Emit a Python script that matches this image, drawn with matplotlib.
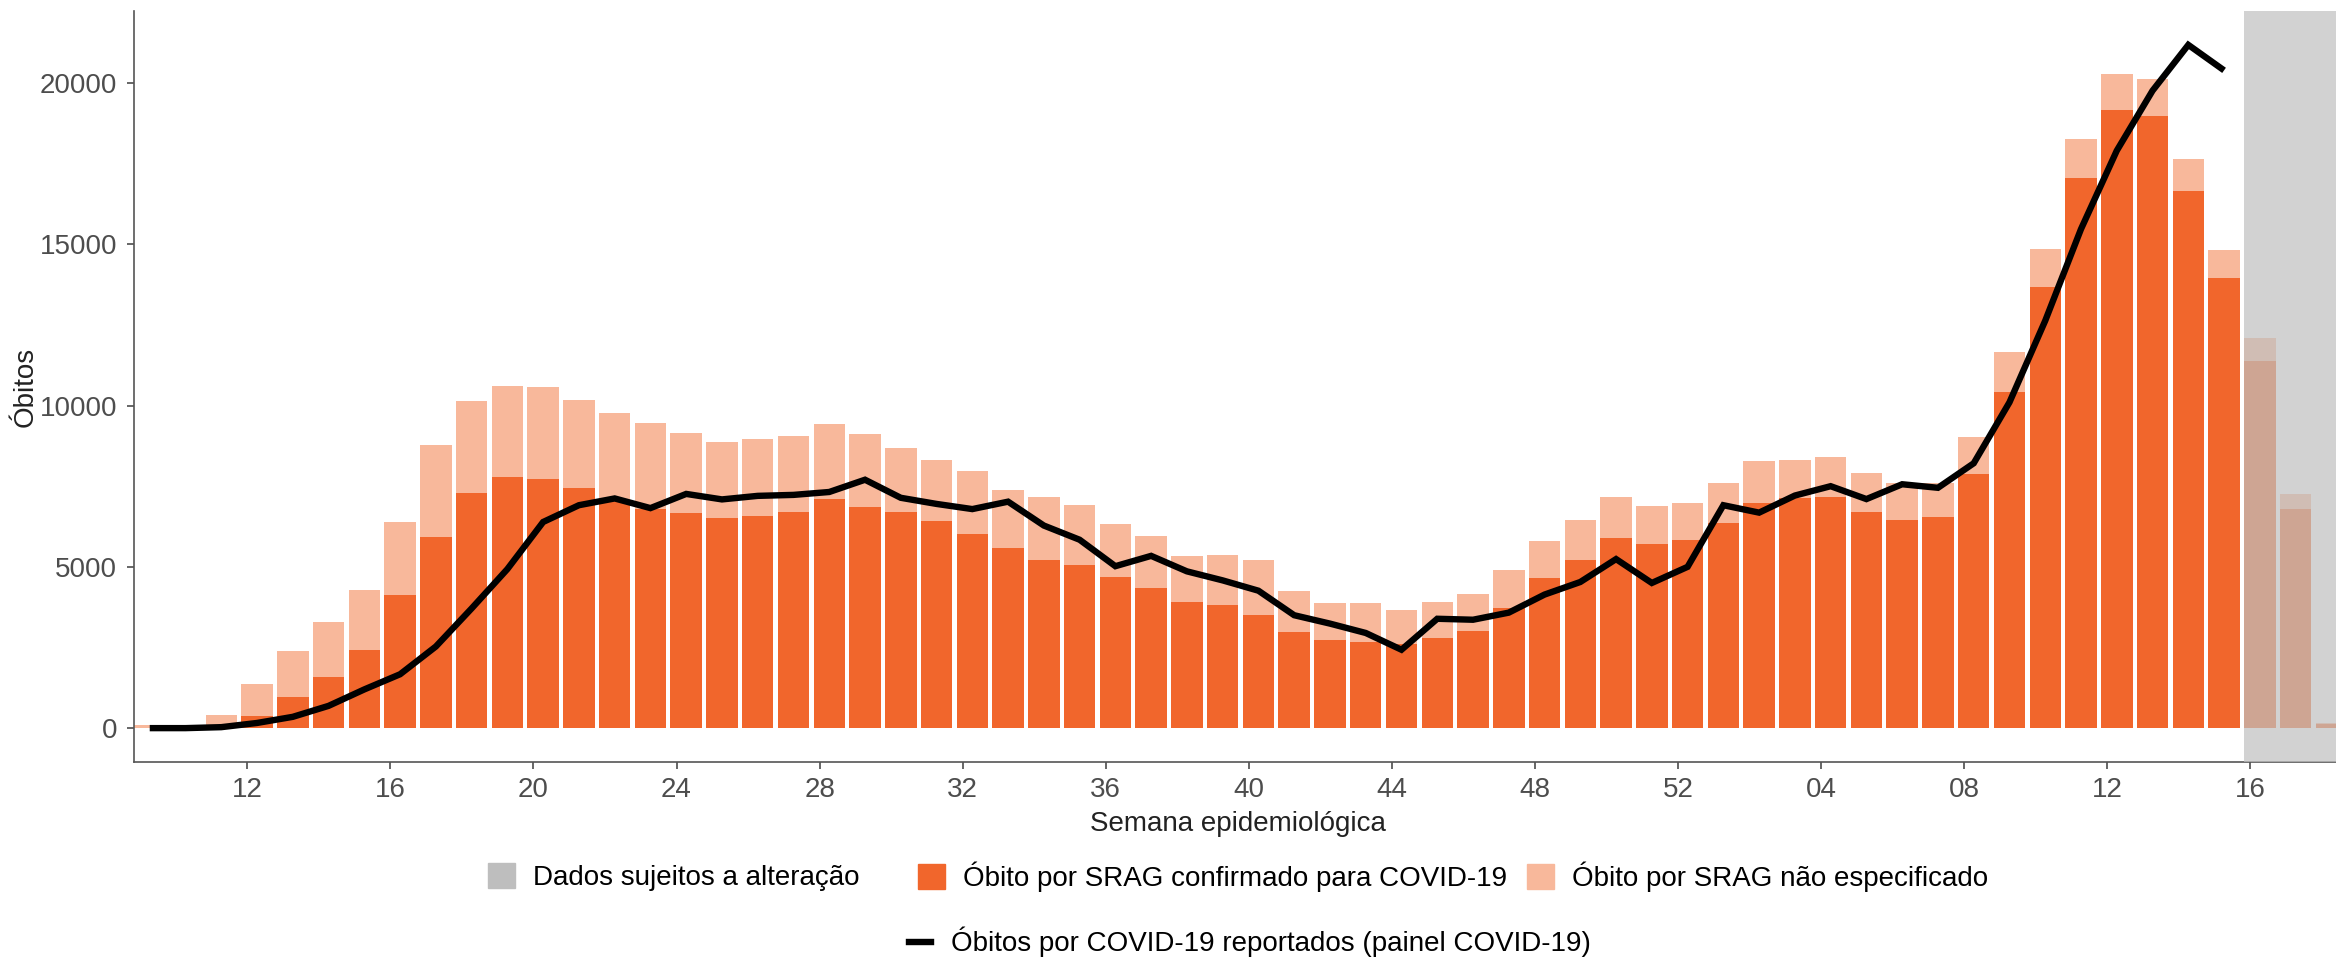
import numpy as np
import matplotlib.pyplot as plt
from matplotlib.patches import Patch
from matplotlib.lines import Line2D

plt.rcParams['font.family'] = ['Liberation Sans', 'DejaVu Sans']

# semanas epidemiologicas: 2020 (09-52) e 2021 (01-18)
semanas = list(range(9, 53)) + list(range(1, 19))

# obitos por SRAG confirmados para COVID-19
confirmado = [0, 10, 30, 390, 960, 1580, 2430, 4140, 5940, 7290,
              7800, 7735, 7450, 7040, 6790, 6660, 6500, 6580, 6700, 7100,
              6850, 6710, 6410, 6030, 5590, 5220, 5070, 4690, 4330, 3910,
              3820, 3500, 2970, 2730, 2680, 2620, 2780, 3000, 3710, 4640,
              5210, 5890, 5710, 5840, 6360, 6980, 7140, 7150, 6710, 6460,
              6540, 7890, 10430, 13670, 17050, 19150, 18990, 16650, 13940, 11370,
              6790, 120]

# total de obitos por SRAG (confirmado + nao especificado)
total = [90, 50, 420, 1370, 2400, 3300, 4280, 6380, 8790, 10130,
         10590, 10560, 10170, 9770, 9455, 9140, 8870, 8950, 9060, 9440,
         9110, 8670, 8320, 7960, 7390, 7150, 6930, 6330, 5950, 5340,
         5380, 5210, 4250, 3870, 3870, 3660, 3910, 4170, 4890, 5790,
         6440, 7150, 6900, 6980, 7590, 8290, 8320, 8410, 7920, 7610,
         7610, 9030, 11650, 14840, 18260, 20280, 20130, 17630, 14810, 12080,
         7250, 160]

# obitos reportados no painel COVID-19 (ate a semana 15 de 2021)
painel = [0, 0, 30, 160, 350, 690, 1200, 1670, 2530, 3710,
          4930, 6390, 6910, 7120, 6820, 7260, 7090, 7200, 7230, 7320,
          7700, 7140, 6950, 6790, 7020, 6280, 5840, 5020, 5340, 4860,
          4580, 4260, 3500, 3240, 2950, 2430, 3390, 3360, 3580, 4140,
          4530, 5240, 4500, 5000, 6910, 6680, 7210, 7500, 7100, 7560,
          7450, 8210, 10100, 12630, 15470, 17900, 19760, 21180, 20390]

n_instaveis = 3  # ultimas semanas sujeitas a alteracao

cor_conf = '#F1662C'
cor_nesp = '#F8B89B'
cor_cinza = '#C0C0C0'

x = np.arange(len(semanas)) + semanas[0]
confirmado = np.array(confirmado)
nao_esp = np.array(total) - confirmado

fig = plt.figure(figsize=(23.36, 9.6), dpi=100)
ax = fig.add_axes([134 / 2336, 1 - 762 / 960, 1 - 134 / 2336, 751 / 960])

ax.bar(x, confirmado, width=0.88, color=cor_conf, zorder=2)
ax.bar(x, nao_esp, bottom=confirmado, width=0.88, color=cor_nesp, zorder=2)
ax.plot(x[:len(painel)], painel, color='black', lw=4.6, zorder=4,
        solid_joinstyle='miter', solid_capstyle='butt')

ax.axvspan(x[-n_instaveis] - 0.45, x[-1] + 1, color=cor_cinza, alpha=0.7,
           lw=0, zorder=3)

ax.set_xlim(x[0] - 0.44, x[-1] + 0.13)
ax.set_ylim(-1050, 22230)

# ticks a cada 4 semanas, deslocados em relacao as barras
idx = np.arange(semanas.index(12), len(semanas), 4)
ax.set_xticks(x[idx] - 0.27)
ax.set_xticklabels([f'{semanas[i]:02d}' for i in idx])
ax.set_yticks([0, 5000, 10000, 15000, 20000])

ax.tick_params(labelsize=20, colors='#4D4D4D', length=5, width=1.2)
ax.tick_params(axis='x', pad=6)
ax.tick_params(axis='y', pad=7)
for s in ['top', 'right']:
    ax.spines[s].set_visible(False)
for s in ['left', 'bottom']:
    ax.spines[s].set_color('#555555')
    ax.spines[s].set_linewidth(1.2)

ax.set_xlabel('Semana epidemiológica', fontsize=20, color='#222222')
ax.xaxis.set_label_coords((1238 - 134) / (2336 - 134), -62 / 751)
ax.xaxis.label.set_va('center')
ax.set_ylabel('Óbitos', fontsize=20, color='#222222')
ax.yaxis.set_label_coords(-108 / (2336 - 134), 0.5)
ax.yaxis.label.set_va('center')

# legenda: cada item posicionado como no original
itens = [(Patch(color='#BEBEBE', label='Dados sujeitos a alteração'), 488, 877),
         (Patch(color=cor_conf, label='Óbito por SRAG confirmado para COVID-19'), 918, 877),
         (Patch(color=cor_nesp, label='Óbito por SRAG não especificado'), 1527, 877)]
for h, px, py in itens:
    fig.legend(handles=[h], loc='center left', bbox_to_anchor=(px / 2336, 1 - py / 960),
               frameon=False, fontsize=20, handlelength=0.97, handleheight=1.0,
               handletextpad=0.65, borderpad=0, borderaxespad=0)

linha = Line2D([], [], color='black', lw=4.6,
               label='Óbitos por COVID-19 reportados (painel COVID-19)')
fig.legend(handles=[linha], loc='center left', bbox_to_anchor=(909 / 2336, 1 - 942 / 960),
           frameon=False, fontsize=20, handlelength=0.8, handletextpad=0.7,
           borderpad=0, borderaxespad=0)

fig.savefig('out.png', dpi=100)
